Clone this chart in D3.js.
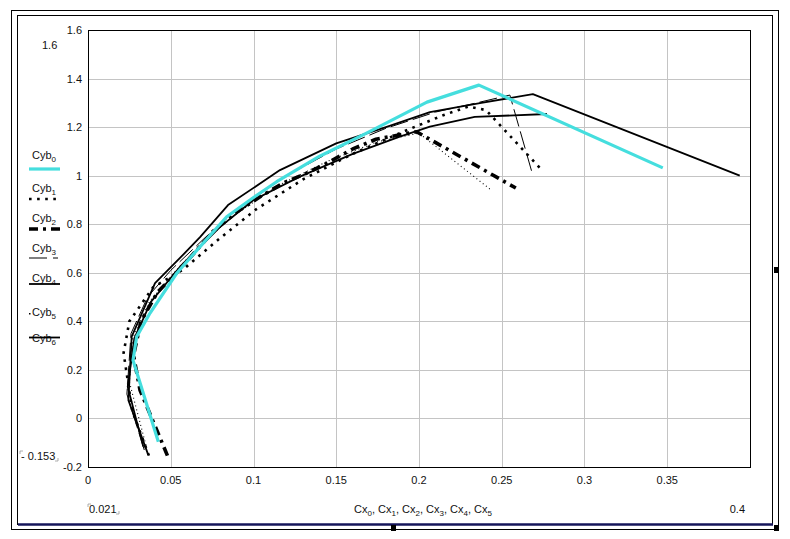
<!DOCTYPE html>
<html><head><meta charset="utf-8">
<script src="https://cdn.jsdelivr.net/npm/d3@7"></script>
<style>body{margin:0;background:#fff} svg{display:block} text{font-family:"Liberation Sans",Arial,sans-serif;fill:#111}</style>
</head><body><svg id="c" width="790" height="539"></svg>
<script>
// ---- data ----
const xTicks = [0, 0.05, 0.1, 0.15, 0.2, 0.25, 0.3, 0.35];
const yTicks = [-0.2, 0, 0.2, 0.4, 0.6, 0.8, 1, 1.2, 1.4, 1.6];
const seriesNames = ["Cyb0", "Cyb1", "Cyb2", "Cyb3", "Cyb4", "Cyb5", "Cyb6"];
const xLimits = ["0.021", "0.4"];
const yLimits = ["1.6", "- 0.153"];

const cx0 = [0.0425, 0.0272, 0.0294, 0.0375, 0.0536, 0.0680, 0.0838, 0.1000, 0.1140, 0.1400, 0.1680, 0.2048, 0.2362, 0.3473];
const cyb0 = [-0.096, 0.240, 0.337, 0.434, 0.598, 0.710, 0.831, 0.910, 0.975, 1.080, 1.174, 1.303, 1.373, 1.032];

const cx1 = [0.0368, 0.0268, 0.0215, 0.0250, 0.0393, 0.0576, 0.0797, 0.1015, 0.1300, 0.1600, 0.1900, 0.2150, 0.2300, 0.2405, 0.2748];
const cyb1 = [-0.153, 0.030, 0.270, 0.400, 0.540, 0.614, 0.742, 0.861, 0.985, 1.090, 1.180, 1.250, 1.285, 1.270, 1.019];

const cx2 = [0.0480, 0.0314, 0.0275, 0.0320, 0.0420, 0.0550, 0.0755, 0.0898, 0.1040, 0.1180, 0.1320, 0.1440, 0.1600, 0.1740, 0.1985, 0.2585];
const cyb2 = [-0.153, 0.117, 0.260, 0.400, 0.520, 0.610, 0.770, 0.850, 0.913, 0.970, 1.010, 1.050, 1.110, 1.150, 1.181, 0.949];

const cx3 = [0.0340, 0.0235, 0.0260, 0.0360, 0.0500, 0.0700, 0.0900, 0.1200, 0.1500, 0.1800, 0.2100, 0.2350, 0.2549, 0.2682];
const cyb3 = [-0.130, 0.100, 0.350, 0.500, 0.610, 0.740, 0.860, 1.000, 1.110, 1.195, 1.262, 1.300, 1.332, 1.015];

const cx4 = [0.0364, 0.0244, 0.0264, 0.0405, 0.0556, 0.0677, 0.0846, 0.1160, 0.1500, 0.1800, 0.2066, 0.2368, 0.2688, 0.3938];
const cyb4 = [-0.150, 0.075, 0.337, 0.557, 0.661, 0.747, 0.879, 1.023, 1.133, 1.200, 1.262, 1.299, 1.336, 1.000];

const cx5 = [0.0350, 0.0250, 0.0270, 0.0370, 0.0520, 0.0700, 0.0900, 0.1150, 0.1450, 0.1750, 0.2000, 0.2428];
const cyb5 = [-0.110, 0.150, 0.330, 0.480, 0.600, 0.730, 0.845, 0.960, 1.060, 1.140, 1.175, 0.945];

const cx6 = [0.0334, 0.0240, 0.0280, 0.0380, 0.0556, 0.0800, 0.1000, 0.1280, 0.1600, 0.1880, 0.2066, 0.2337, 0.2773];
const cyb6 = [-0.116, 0.130, 0.330, 0.480, 0.625, 0.790, 0.900, 0.996, 1.090, 1.160, 1.202, 1.242, 1.254];

const allX = [cx0, cx1, cx2, cx3, cx4, cx5, cx6];
const allY = [cyb0, cyb1, cyb2, cyb3, cyb4, cyb5, cyb6];

// ---- styles ----
const styles = [
  {stroke: "#45dede", width: 3.2, dash: null},
  {stroke: "#000", width: 2.6, dash: "2.6,5.5"},
  {stroke: "#000", width: 3.6, dash: "9,5,3,5"},
  {stroke: "#000", width: 1, dash: "18,5"},
  {stroke: "#000", width: 1.8, dash: null},
  {stroke: "#000", width: 1.1, dash: "1,3"},
  {stroke: "#000", width: 1.8, dash: null}
];

const svg = d3.select("#c");
const L = 88, R = 750, T = 30, B = 467;
const x = d3.scaleLinear().domain([0, 0.4]).range([L, R]);
const y = d3.scaleLinear().domain([-0.2, 1.6]).range([B, T]);

// frames
svg.append("rect").attr("x", 11.5).attr("y", 10.5).attr("width", 767).attr("height", 519).attr("fill", "none").attr("stroke", "#000");
svg.append("rect").attr("x", 17.5).attr("y", 15.5).attr("width", 755).attr("height", 509).attr("fill", "none").attr("stroke", "#000");
svg.append("line").attr("x1", 18).attr("x2", 773).attr("y1", 524.5).attr("y2", 524.5).attr("stroke", "#14145a").attr("stroke-width", 2.5);
[[774, 267], [391, 525], [774, 525]].forEach(([hx, hy]) =>
  svg.append("rect").attr("x", hx).attr("y", hy).attr("width", 5).attr("height", 6).attr("fill", "#000"));

// grid
const g = svg.append("g");
g.selectAll(".vg").data(xTicks.slice(1)).enter().append("line")
  .attr("x1", d => Math.round(x(d)) + 0.5).attr("x2", d => Math.round(x(d)) + 0.5)
  .attr("y1", T).attr("y2", B).attr("stroke", "#c4c4c4");
g.selectAll(".hg").data(yTicks.slice(1, -1)).enter().append("line")
  .attr("y1", d => Math.round(y(d)) + 0.5).attr("y2", d => Math.round(y(d)) + 0.5)
  .attr("x1", L).attr("x2", R).attr("stroke", "#c4c4c4");
svg.append("rect").attr("x", L + 0.5).attr("y", T + 0.5).attr("width", R - L).attr("height", B - T)
  .attr("fill", "none").attr("stroke", "#000");

// tick labels
const fmt = d => (d < 0 ? "-" : "") + String(Math.abs(+d.toFixed(2)));
svg.selectAll(".xt").data(xTicks).enter().append("text")
  .attr("x", d => x(d)).attr("y", 484).attr("text-anchor", "middle").attr("font-size", 11).text(fmt);
svg.selectAll(".yt").data(yTicks).enter().append("text")
  .attr("x", 82).attr("y", d => y(d) + 4).attr("text-anchor", "end").attr("font-size", 11).text(fmt);

// limit labels
svg.append("text").attr("x", 42).attr("y", 49).attr("font-size", 11).text(yLimits[0]);
svg.append("text").attr("x", 21).attr("y", 460).attr("font-size", 11).text(yLimits[1]);
svg.append("text").attr("x", 89).attr("y", 513).attr("font-size", 11).text(xLimits[0]);
svg.append("text").attr("x", 745).attr("y", 513).attr("text-anchor", "end").attr("font-size", 11).text(xLimits[1]);
// small corner marks of the limit placeholders
const marks = [[20, 451, 1, 1], [58, 461, -1, -1], [88, 504, 1, 1], [119, 514, -1, -1]];
marks.forEach(([mx, my, sx, sy]) =>
  svg.append("path").attr("d", `M${mx},${my + 3 * sy}V${my}H${mx + 3 * sx}`).attr("fill", "none").attr("stroke", "#999").attr("stroke-width", 0.8));

// x axis title with subscripts
const xt = svg.append("text").attr("x", 423).attr("y", 513).attr("text-anchor", "middle").attr("font-size", 11);
seriesNames.slice(0, 6).forEach((n, i) => {
  xt.append("tspan").attr("dy", i === 0 ? 0 : -3).text((i ? ", " : "") + "Cx");
  xt.append("tspan").attr("dy", 3).attr("font-size", 8).text(String(i));
});

// series
const line = d3.line().x(d => x(d[0])).y(d => y(d[1]));
[4, 6, 3, 5, 1, 2, 0].forEach(i => {
  const pts = allX[i].map((v, k) => [v, allY[i][k]]);
  const s = styles[i];
  svg.append("path").attr("d", line(pts)).attr("fill", "none")
    .attr("stroke", s.stroke).attr("stroke-width", s.width)
    .attr("stroke-dasharray", s.dash).attr("stroke-linejoin", "round");
});

// legend
const legBase = [159, 192, 222, 252, 282, 316, 342];
const sampleY = [169, 199, 229, 258, 284, 0, 337.5];
seriesNames.forEach((n, i) => {
  const t = svg.append("text").attr("x", 32).attr("y", legBase[i]).attr("font-size", 11);
  t.append("tspan").text("Cyb");
  t.append("tspan").attr("dy", 3).attr("font-size", 8).text(n.slice(3));
  const s = styles[i];
  if (i === 5) {
    svg.append("rect").attr("x", 29).attr("y", 313).attr("width", 1.5).attr("height", 1.5).attr("fill", "#000");
  } else if (i === 3) {
    svg.append("line").attr("x1", 29).attr("x2", 47).attr("y1", sampleY[i]).attr("y2", sampleY[i]).attr("stroke", "#000").attr("stroke-width", 1);
    svg.append("line").attr("x1", 53).attr("x2", 58).attr("y1", sampleY[i]).attr("y2", sampleY[i]).attr("stroke", "#000").attr("stroke-width", 1);
  } else {
    svg.append("line").attr("x1", 29).attr("x2", 60).attr("y1", sampleY[i]).attr("y2", sampleY[i])
      .attr("stroke", s.stroke).attr("stroke-width", s.width).attr("stroke-dasharray", s.dash);
  }
});
</script></body></html>
